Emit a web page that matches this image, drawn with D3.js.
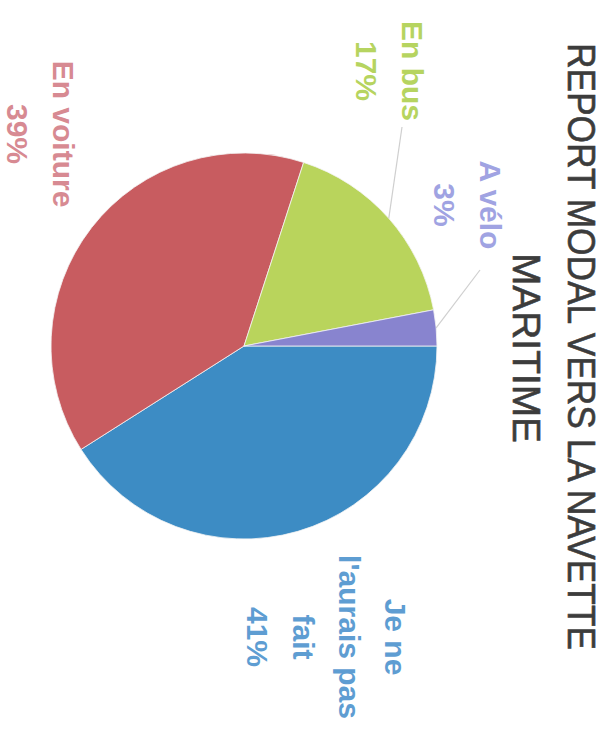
<!DOCTYPE html>
<html>
<head>
<meta charset="utf-8">
<script src="https://cdn.jsdelivr.net/npm/d3@7"></script>
<style>
  html, body { margin: 0; padding: 0; background: #ffffff; }
  svg { display: block; }
</style>
</head>
<body>
<svg id="chart" width="608" height="734"></svg>
<script>
// Survey answers: which mode would have been used without the shuttle
const categories = ["Je ne l'aurais pas fait", "En voiture", "En bus", "A vélo"];
const values = [41, 39, 17, 3];
const labelLines = [["Je ne", "l'aurais pas", "fait"], ["En voiture"], ["En bus"], ["A vélo"]];
const titleLines = ["REPORT MODAL VERS LA NAVETTE", "MARITIME"];

// Slice and label colours
const sliceColors = ["#3d8cc4", "#c85c60", "#b9d45c", "#8884cf"];
const labelColors = ["#5e9dd2", "#d78a92", "#b6d460", "#a0a3e2"];

// Layout of the chart drawn in its own frame (734 wide x 608 tall),
// then turned a quarter turn clockwise onto the page.
const frameW = 734, frameH = 608;
const center = { x: 346, y: 364 };
const radius = 193;
const labelFont = 30, labelPitch = 46;
// label anchor (centre x, first baseline y) and leader-line end, per slice
const labelLayout = [
  { x: 637, y: 223, leader: null },
  { x: 134, y: 555, leader: null },
  { x: 71,  y: 206, leader: { x: 127, y: 206 } },
  { x: 205, y: 128, leader: { x: 270, y: 128 } }
];

const svg = d3.select("#chart");
const g = svg.append("g")
  .attr("transform", `translate(${frameH},0) rotate(90)`);

// Title
const titleFont = 38;
const titleLayout = [
  { x: 346.5, y: 40, len: 607 },
  { x: 348, y: 95, len: 190 }
];
g.append("g").selectAll("text")
  .data(titleLines)
  .join("text")
  .attr("x", (d, i) => titleLayout[i].x)
  .attr("y", (d, i) => titleLayout[i].y)
  .attr("text-anchor", "middle")
  .attr("textLength", (d, i) => titleLayout[i].len)
  .attr("lengthAdjust", "spacingAndGlyphs")
  .attr("font-family", "'Liberation Sans', Arial, sans-serif")
  .attr("font-size", titleFont)
  .attr("fill", "#3c3c3c")
  .attr("stroke", "#3c3c3c")
  .attr("stroke-width", 0.6)
  .text(d => d);

// Pie
const pie = d3.pie().sort(null).value(d => d)
  .startAngle(0).endAngle(2 * Math.PI);
const arcs = pie(values);
const arc = d3.arc().innerRadius(0).outerRadius(radius);

const pieG = g.append("g")
  .attr("transform", `translate(${center.x},${center.y})`);

pieG.selectAll("path")
  .data(arcs)
  .join("path")
  .attr("d", arc)
  .attr("fill", (d, i) => sliceColors[i])
  .attr("stroke", "#f4f4f4")
  .attr("stroke-width", 0.8);

// Leader lines from each slice's mid-angle on the rim to its label
arcs.forEach((a, i) => {
  const L = labelLayout[i].leader;
  if (!L) return;
  const mid = (a.startAngle + a.endAngle) / 2;
  const px = center.x + radius * Math.sin(mid);
  const py = center.y - radius * Math.cos(mid);
  g.append("line")
    .attr("x1", px).attr("y1", py)
    .attr("x2", L.x).attr("y2", L.y)
    .attr("stroke", "#cfcfcf")
    .attr("stroke-width", 1.2);
});

// Data labels: category name lines followed by the percentage
const fmt = d => `${d}%`;
arcs.forEach((a, i) => {
  const lines = labelLines[i].concat([fmt(values[i])]);
  const pos = labelLayout[i];
  g.append("g").selectAll("text")
    .data(lines)
    .join("text")
    .attr("x", pos.x)
    .attr("y", (d, k) => pos.y + k * labelPitch)
    .attr("text-anchor", "middle")
    .attr("font-family", "'Liberation Sans', Arial, sans-serif")
    .attr("font-weight", "bold")
    .attr("font-size", labelFont)
    .attr("fill", labelColors[i])
    .text(d => d);
});
</script>
</body>
</html>
